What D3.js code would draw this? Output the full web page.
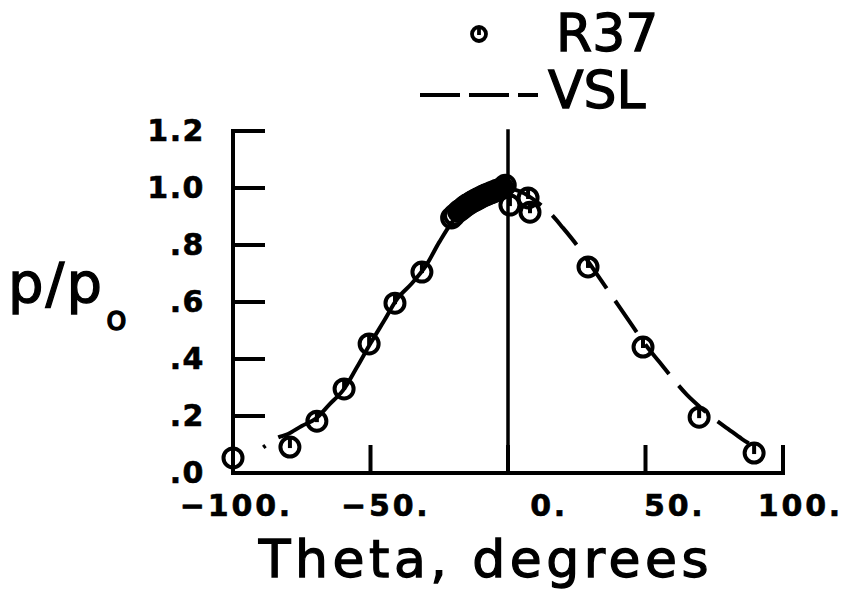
<!DOCTYPE html>
<html><head><meta charset="utf-8">
<script src="https://cdn.jsdelivr.net/npm/d3@7"></script>
<style>body{margin:0;background:#fff}svg{display:block}</style>
</head><body>
<script>
// ---- data ----
const thetaTicks = [-100, -50, 0, 50, 100];
const thetaTickLabels = ["\u2212100.", "\u221250.", "0.", "50.", "100."];
const pTicks = [0, 0.2, 0.4, 0.6, 0.8, 1.0, 1.2];
const pTickLabels = [".0", ".2", ".4", ".6", ".8", "1.0", "1.2"];

const r37Theta = [-100, -79.3, -69.5, -59.6, -50.5, -41.1, -31.3, -20.5, -19.5, -18, -17, -16, -15, -14, -13, -12, -11, -10, -9, -8, -7, -6, -5, -4, -3, -2, -1, 0.7, 7.3, 8, 29.1, 49.1, 69.5, 89.5];
const r37P     = [0.053, 0.091, 0.182, 0.295, 0.453, 0.596, 0.705, 0.895, 0.905, 0.918, 0.925, 0.933, 0.94, 0.946, 0.952, 0.957, 0.962, 0.967, 0.972, 0.976, 0.98, 0.984, 0.988, 0.992, 0.995, 1.0, 1.01, 0.94, 0.965, 0.915, 0.723, 0.442, 0.196, 0.070];

const vslTheta = [-89, -84, -80, -75, -70, -65, -60, -55, -50, -45, -40, -35, -30, -25, -20, -15, -10, -5, 0, 5, 10, 15, 20, 25, 30, 35, 40, 45, 50, 55, 60, 65, 70, 75, 80, 85, 90];
const vslP     = [0.09, 0.123, 0.137, 0.165, 0.19, 0.24, 0.29, 0.37, 0.455, 0.535, 0.615, 0.665, 0.725, 0.81, 0.885, 0.94, 0.975, 0.995, 1.0, 0.985, 0.955, 0.915, 0.86, 0.80, 0.73, 0.66, 0.59, 0.52, 0.45, 0.39, 0.33, 0.275, 0.23, 0.19, 0.155, 0.12, 0.09];

const legendLabels = ["R37", "VSL"];

// ---- layout ----
const W = 842, H = 593;
const svg = d3.select("body").append("svg").attr("width", W).attr("height", H);
const x = d3.scaleLinear().domain([-100, 100]).range([233, 783]);
const y = d3.scaleLinear().domain([0, 1.2]).range([473, 131]);
const ink = "#000";
const SW = 4;

// axes lines
const g = svg.append("g").attr("stroke", ink).attr("stroke-width", SW).attr("fill", "none").attr("stroke-linecap", "square");
g.append("line").attr("x1", x(-100)).attr("x2", x(-100)).attr("y1", y(0)).attr("y2", y(1.2));
g.append("line").attr("x1", x(-100)).attr("x2", x(100)).attr("y1", y(0)).attr("y2", y(0));
g.selectAll(".yt").data(pTicks.filter(d => d > 0)).join("line")
  .attr("x1", x(-100)).attr("x2", x(-100) + 30).attr("y1", d => y(d)).attr("y2", d => y(d));
g.selectAll(".xt").data(thetaTicks.filter(d => d > -100)).join("line")
  .attr("x1", d => x(d)).attr("x2", d => x(d)).attr("y1", y(0)).attr("y2", y(0) - 26);
// vertical reference line at theta = 0
g.append("line").attr("x1", x(0)).attr("x2", x(0)).attr("y1", y(0)).attr("y2", y(1.2)).attr("stroke-width", 3.5);

// tick labels
const tf = "'DejaVu Sans', sans-serif";
svg.selectAll(".xl").data(thetaTicks).join("text")
  .attr("x", d => x(d) + 60).attr("y", y(0) + 43)
  .attr("text-anchor", "end").attr("font-family", tf).attr("font-weight", "bold")
  .attr("font-size", 30).attr("letter-spacing", 2.8)
  .attr("stroke", ink).attr("stroke-width", 0.6)
  .text((d, i) => thetaTickLabels[i]);
svg.selectAll(".yl").data(pTicks).join("text")
  .attr("x", 205).attr("y", d => y(d) + 10)
  .attr("text-anchor", "end").attr("font-family", tf).attr("font-weight", "bold")
  .attr("font-size", 30).attr("letter-spacing", 1.5)
  .attr("stroke", ink).attr("stroke-width", 0.6)
  .text((d, i) => pTickLabels[i]);

// axis titles
svg.append("text").attr("x", 486).attr("y", 577).attr("text-anchor", "middle")
  .attr("font-family", tf).attr("font-size", 52).attr("letter-spacing", 4.5)
  .attr("stroke", ink).attr("stroke-width", 1.3).text("Theta, degrees");
const yt = svg.append("text").attr("x", 8).attr("y", 302).attr("font-family", tf).attr("font-size", 56)
  .attr("stroke", ink).attr("stroke-width", 1.3);
yt.append("tspan").attr("letter-spacing", 2).text("p/p");
yt.append("tspan").attr("dy", 28).attr("dx", 2).attr("font-size", 34).text("o");

// VSL curves
const line = d3.line().x(d => x(d[0])).y(d => y(d[1])).curve(d3.curveCatmullRom);
const vsl = vslTheta.map((t, i) => [t, vslP[i]]);
svg.append("path").datum(vsl.filter(d => d[0] <= 0)).attr("d", line)
  .attr("fill", "none").attr("stroke", ink).attr("stroke-width", SW)
  .attr("stroke-dasharray", "3,15,4000");
svg.append("path").datum(vsl.filter(d => d[0] >= 0)).attr("d", line)
  .attr("fill", "none").attr("stroke", ink).attr("stroke-width", SW)
  .attr("stroke-dasharray", "38,15");

// markers
function marker(sel, r, sw) {
  sel.append("circle").attr("r", r).attr("fill", "none").attr("stroke", ink).attr("stroke-width", sw);
  sel.append("line").attr("x1", 0).attr("x2", 0).attr("y1", -r).attr("y2", 1).attr("stroke", ink).attr("stroke-width", sw);
}
const r37 = r37Theta.map((t, i) => [t, r37P[i]]);
svg.selectAll(".m").data(r37).join("g")
  .attr("transform", d => `translate(${x(d[0])},${y(d[1])})`)
  .each(function () { marker(d3.select(this), 9.5, 4); });

// legend
const lg = svg.append("g");
const lm = lg.append("g").attr("transform", "translate(479,34)");
marker(lm, 7, 3.8);
lg.append("text").attr("x", 556).attr("y", 51).attr("font-family", tf).attr("font-size", 52)
  .attr("stroke", ink).attr("stroke-width", 1.3).text(legendLabels[0]);
lg.append("line").attr("x1", 420).attr("x2", 538).attr("y1", 95).attr("y2", 95)
  .attr("stroke", ink).attr("stroke-width", SW).attr("stroke-dasharray", "40,9");
lg.append("text").attr("x", 548).attr("y", 108).attr("font-family", tf).attr("font-size", 52)
  .attr("stroke", ink).attr("stroke-width", 1.3).text(legendLabels[1]);
</script>
</body></html>
